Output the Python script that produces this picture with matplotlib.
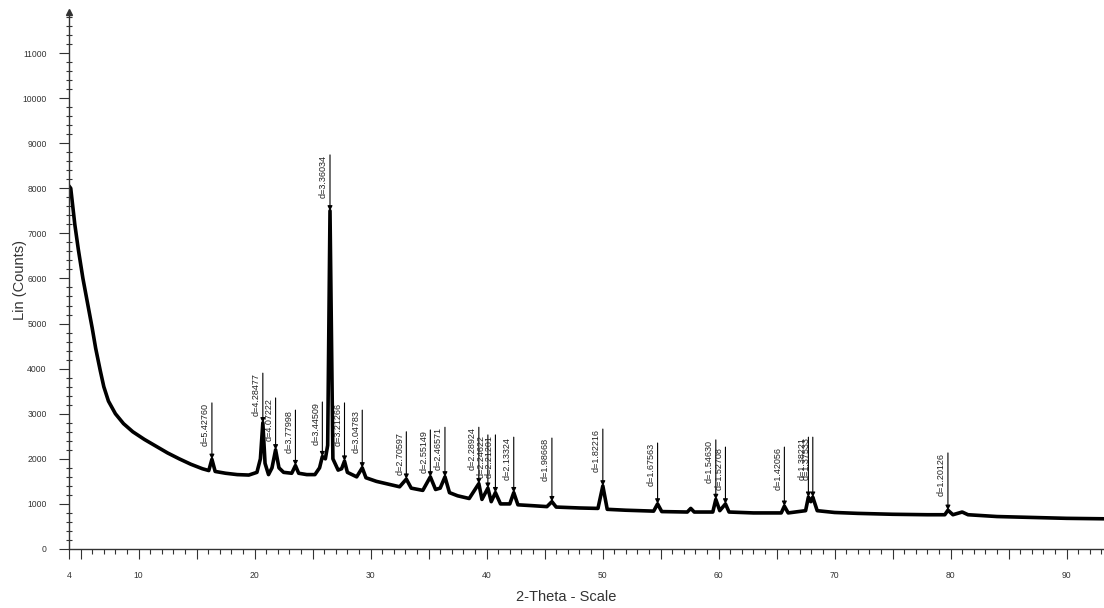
import matplotlib
matplotlib.use("Agg")
import matplotlib.pyplot as plt
from matplotlib.ticker import MultipleLocator, FixedLocator, FixedFormatter

plt.rcParams['font.family'] = ['Liberation Sans', 'DejaVu Sans']

# diffractogram: 2-theta (deg) and counts
two_theta = [4.0, 4.15, 4.5, 4.8, 5.2, 5.6, 6.0, 6.3, 6.7, 7.0, 7.4, 8.0, 8.7, 9.5,
             10.5, 11.5, 12.5, 13.5, 14.5, 15.5, 16.05, 16.32, 16.6, 17.5, 18.5, 19.5,
             20.2, 20.5, 20.71, 20.9, 21.2, 21.5, 21.81, 22.1, 22.5, 23.2, 23.52, 23.8,
             24.5, 25.2, 25.6, 25.84, 26.1, 26.3, 26.5, 26.75, 27.2, 27.5, 27.75, 28.0,
             28.8, 29.28, 29.6, 30.5, 31.5, 32.5, 33.08, 33.5, 34.5, 35.15, 35.6, 36.0,
             36.41, 36.8, 37.5, 38.5, 39.33, 39.6, 40.11, 40.4, 40.76, 41.2, 42.0, 42.34,
             42.7, 44.0, 45.2, 45.63, 46.0, 48.0, 49.6, 50.02, 50.4, 52.0, 54.4, 54.74,
             55.1, 57.3, 57.6, 57.9, 59.5, 59.76, 60.1, 60.59, 60.9, 63.0, 65.4, 65.67,
             66.0, 67.5, 67.74, 67.95, 68.12, 68.5, 70.0, 72.0, 75.0, 78.0, 79.5, 79.77,
             80.2, 81.0, 81.5, 84.0, 87.0, 90.0, 93.22]
counts = [8050, 8000, 7200, 6650, 6000, 5450, 4900, 4450, 3950, 3600, 3280, 3000, 2780, 2600,
          2430, 2280, 2130, 2000, 1880, 1780, 1740, 1990, 1720, 1680, 1650, 1640,
          1700, 2000, 2800, 1900, 1650, 1800, 2200, 1800, 1700, 1680, 1850, 1680,
          1650, 1650, 1800, 2050, 2000, 2300, 7500, 2000, 1750, 1780, 1950, 1700,
          1600, 1800, 1580, 1500, 1440, 1380, 1550, 1350, 1300, 1600, 1320, 1350,
          1600, 1250, 1180, 1120, 1450, 1100, 1350, 1050, 1250, 1000, 1000, 1250,
          980, 960, 940, 1050, 930, 910, 900, 1400, 880, 860, 840, 1000,
          830, 820, 900, 820, 820, 1100, 850, 1000, 820, 800, 800, 950,
          800, 850, 1150, 1050, 1150, 850, 810, 790, 770, 760, 760, 860,
          760, 820, 760, 720, 700, 680, 670]

# peak markers
peak_labels = ["d=5.42760", "d=4.28477", "d=4.07222", "d=3.77998", "d=3.44509", "d=3.36034",
               "d=3.21266", "d=3.04783", "d=2.70597", "d=2.55149", "d=2.46571", "d=2.28924",
               "d=2.24622", "d=2.21201", "d=2.13324", "d=1.98668", "d=1.82216", "d=1.67563",
               "d=1.54630", "d=1.52708", "d=1.42056", "d=1.38221", "d=1.37533", "d=1.20126"]
peak_pos = [16.32, 20.71, 21.81, 23.52, 25.84, 26.50, 27.75, 29.28, 33.08, 35.15, 36.41, 39.33,
            40.11, 40.76, 42.34, 45.63, 50.02, 54.74, 59.76, 60.59, 65.67, 67.74, 68.12, 79.77]
peak_top = [1990, 2800, 2200, 1850, 2050, 7500, 1950, 1800, 1550, 1600, 1600, 1450,
            1350, 1250, 1250, 1050, 1400, 1000, 1100, 1000, 950, 1150, 1150, 860]
label_top = [3240, 3900, 3350, 3080, 3260, 8740, 3240, 3080, 2600, 2640, 2700, 2700,
             2530, 2530, 2480, 2460, 2660, 2350, 2420, 2260, 2260, 2480, 2480, 2130]

fig = plt.figure(figsize=(11.04, 6.08), dpi=100)
ax = fig.add_axes([69 / 1104, 59 / 608, 1035 / 1104, 537 / 608])

ax.plot(two_theta, counts, color='black', linewidth=2.6, solid_joinstyle='round')

for lab, x, pk, top in zip(peak_labels, peak_pos, peak_top, label_top):
    ax.annotate('', xy=(x, pk), xytext=(x, top),
                arrowprops=dict(arrowstyle='-|>', color='black', lw=0.8,
                                mutation_scale=7, shrinkA=0, shrinkB=0))
    ax.annotate(lab, xy=(x, top), xytext=(-1.5, 0), textcoords='offset points',
                rotation=90, ha='right', va='top', fontsize=6.5, color='#222222')

xmax = 4 + 1035 / 11.6
ymax = 537 / 45.09 * 1000
ax.set_xlim(4, xmax)
ax.set_ylim(0, ymax)

for s in ['top', 'right']:
    ax.spines[s].set_visible(False)
for s in ['left', 'bottom']:
    ax.spines[s].set_color('#333333')
    ax.spines[s].set_linewidth(1.0)

# small arrow head at top of the y axis
ax.plot([4], [ymax], marker='^', color='#333333', markersize=4, clip_on=False)

xt = [4, 5] + list(range(10, 95, 5))
xl = ['4', ''] + [str(v) if v % 10 == 0 else '' for v in range(10, 95, 5)]
ax.xaxis.set_major_locator(FixedLocator(xt))
ax.xaxis.set_major_formatter(FixedFormatter(xl))
ax.xaxis.set_minor_locator(MultipleLocator(1))
ax.tick_params(axis='x', which='major', direction='out', length=7, width=0.8,
               colors='#333333', labelsize=6.2, pad=9)
ax.tick_params(axis='x', which='minor', direction='out', length=3.5, width=0.8,
               colors='#333333')

ax.yaxis.set_major_locator(MultipleLocator(1000))
ax.yaxis.set_minor_locator(MultipleLocator(200))
ax.tick_params(axis='y', which='major', direction='out', length=7, width=0.8,
               colors='#333333', labelsize=6.2, pad=9)
ax.tick_params(axis='y', which='minor', direction='inout', length=5, width=0.8,
               colors='#333333')

fig.text(20 / 1104, 1 - 280 / 608, 'Lin (Counts)', rotation=90, ha='center', va='center',
         fontsize=10.5, color='#333333')
fig.text(566 / 1104, 1 - 597 / 608, '2-Theta - Scale', ha='center', va='center',
         fontsize=10.5, color='#333333')

fig.savefig('out.png', dpi=100, facecolor='white')
